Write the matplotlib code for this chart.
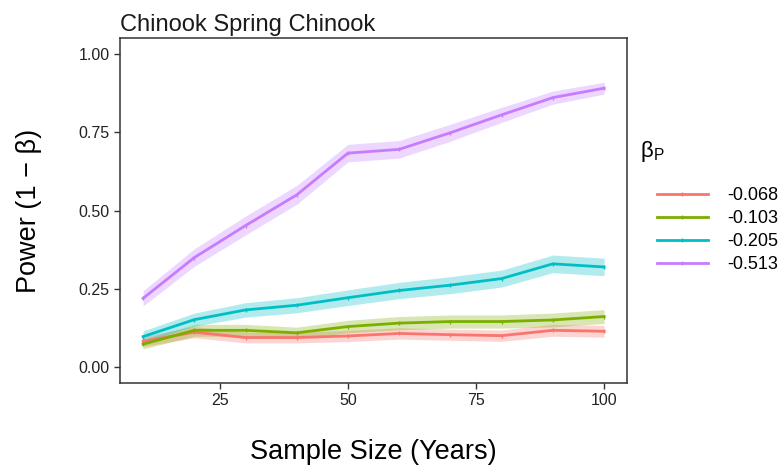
import matplotlib.pyplot as plt
from matplotlib.lines import Line2D

plt.rcParams['font.family'] = ['Liberation Sans', 'DejaVu Sans']

years = [10, 20, 30, 40, 50, 60, 70, 80, 90, 100]
betas = ['-0.068', '-0.103', '-0.205', '-0.513']

# Power por tamaño de muestra
pw_068 = [0.083, 0.112, 0.095, 0.095, 0.100, 0.108, 0.104, 0.101, 0.118, 0.115]
pw_103 = [0.074, 0.118, 0.118, 0.110, 0.130, 0.141, 0.146, 0.146, 0.151, 0.162]
pw_205 = [0.098, 0.152, 0.183, 0.198, 0.222, 0.245, 0.262, 0.283, 0.330, 0.320]
pw_513 = [0.220, 0.350, 0.452, 0.550, 0.683, 0.695, 0.748, 0.805, 0.860, 0.890]

# mitad del ancho de la banda
bw_068 = [0.016, 0.018, 0.017, 0.017, 0.018, 0.018, 0.018, 0.018, 0.019, 0.019]
bw_103 = [0.015, 0.019, 0.019, 0.018, 0.020, 0.021, 0.021, 0.021, 0.022, 0.022]
bw_205 = [0.018, 0.021, 0.023, 0.024, 0.025, 0.026, 0.027, 0.027, 0.028, 0.028]
bw_513 = [0.024, 0.028, 0.030, 0.030, 0.028, 0.028, 0.027, 0.024, 0.021, 0.019]

series = [pw_068, pw_103, pw_205, pw_513]
bands = [bw_068, bw_103, bw_205, bw_513]
colors = ['#F8766D', '#7CAE00', '#00BFC4', '#C77CFF']

fig = plt.figure(figsize=(7.81, 4.68), dpi=100)
ax = fig.add_axes([0.1537, 0.1816, 0.6493, 0.7372])

for y, bw, c in zip(series, bands, colors):
    lo = [v - b for v, b in zip(y, bw)]
    hi = [v + b for v, b in zip(y, bw)]
    ax.fill_between(years, lo, hi, color=c, alpha=0.3, linewidth=0)
    ax.plot(years, y, color=c, linewidth=2, marker='|', markersize=3, markeredgewidth=1)

ax.set_xlim(5.5, 104.5)
ax.set_ylim(-0.05, 1.05)
ax.set_xticks([25, 50, 75, 100])
ax.set_yticks([0, 0.25, 0.5, 0.75, 1.0])
ax.set_yticklabels(['0.00', '0.25', '0.50', '0.75', '1.00'])
for s in ax.spines.values():
    s.set_color('#333333')
    s.set_linewidth(1.1)
ax.tick_params(colors='#333333', labelcolor='#222222', labelsize=11.5, length=4, width=1)

ax.set_title('Chinook Spring Chinook', loc='left', fontsize=17, color='#1a1a1a', pad=5)
ax.set_xlabel('Sample Size (Years)', fontsize=19.5, labelpad=22)
ax.set_ylabel('Power (1 \u2212 \u03b2)', fontsize=19.5, labelpad=26)

# leyenda
fig.text(640 / 781, 1 - 152 / 468, '$\\mathregular{\\beta_P}$', fontsize=16,
         va='center', ha='left')
handles = [Line2D([0], [0], color=c, linewidth=2, marker='|', markersize=3) for c in colors]
fig.legend(handles, betas, loc='upper left', bbox_to_anchor=(657 / 781, 1 - 187 / 468),
           frameon=False, fontsize=13, handlelength=2.82, labelspacing=0.33,
           handletextpad=1.05, borderaxespad=0, borderpad=0)

fig.savefig('out.png', dpi=100)
